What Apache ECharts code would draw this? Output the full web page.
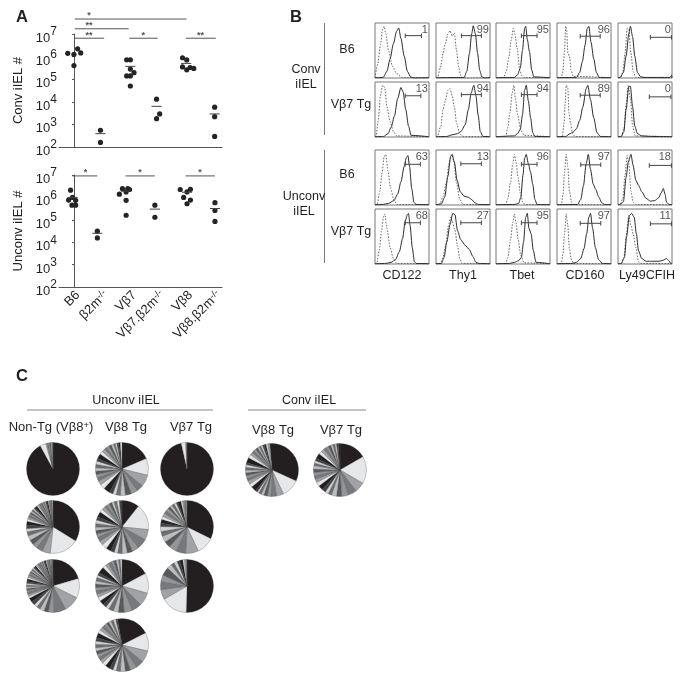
<!DOCTYPE html>
<html><head><meta charset="utf-8">
<style>html,body{margin:0;padding:0;background:#fff}#c{width:684px;height:681px}</style>
<script src="https://cdn.jsdelivr.net/npm/echarts@6/dist/echarts.min.js"></script>
</head><body><div id="c"></div>
<script>
// ---------- Panel A data ----------
const groups = ['B6','β2m-/-','Vβ7','Vβ7.β2m-/-','Vβ8','Vβ8.β2m-/-'];
// each dot: [x position in group units, value]
const convDots = [
 [-0.22,1.4e6],[0,1.25e6],[0.13,2.2e6],[0.24,1.45e6],[0,4e5],
 [0.94,550],[0.94,160],
 [1.87,7.2e5],[2,7.2e5],[2,2.8e5],[2.13,1.95e5],[1.87,1.4e5],[2,1.4e5],[2,5e4],
 [2.93,1.3e4],[3.04,2.9e3],[2.93,1.8e3],
 [3.85,8.9e5],[4,7.1e5],[3.85,3.5e5],[4,2.6e5],[4.12,3.3e5],[4.25,3e5],
 [4.99,5.8e3],[4.99,2.2e3],[4.99,295]
];
const convMeans = [[0.94,390],[2,3.7e5],[2.93,6.3e3],[3.98,5e5],[4.99,2.9e3]];
const convBars = [[0.03,1.07,6.5e6],[1.96,2.97,6.5e6],[3.97,5.03,6.5e6],[0.03,1.94,1.7e7],[0.03,3.99,4.6e7]];
const convStars = [[0.53,'**',8.5e6],[0.53,'**',2.4e7],[0.53,'*',6.6e7],[2.46,'*',8.5e6],[4.49,'**',8.5e6]];
const unconvDots = [
 [-0.12,2.1e6],[-0.19,7.6e5],[-0.05,1e6],[0.06,7.4e5],[-0.07,4.5e5],[0.06,4.5e5],
 [0.83,3.1e4],[0.83,1.55e4],
 [1.61,1.4e6],[1.72,2.45e6],[1.85,1.75e6],[1.91,2.5e6],[1.97,2.25e6],[1.85,7.4e5],[1.85,1.6e5],
 [2.87,4.5e5],[2.87,1.3e5],
 [3.77,2.25e6],[4.01,1.75e6],[4.13,2.3e6],[3.89,1e6],[4.13,7.6e5],[4.01,5.2e5],
 [5,5.8e5],[5,2.6e5],[5,8.5e4]
];
const unconvMeans = [[-0.05,1e6],[0.83,2.5e4],[1.85,1.9e6],[2.87,3e5],[4.01,1.7e6],[5,3.2e5]];
const unconvBars = [[-0.06,0.83,9.1e6],[1.83,2.87,9.1e6],[3.96,5,9.1e6]];
const unconvStars = [[0.41,'*',1.3e7],[2.34,'*',1.3e7],[4.47,'*',1.3e7]];

// ---------- Panel B data: [x,y] curve points, row by row ----------
const isoCurves = [
 [[5,25],[10,60],[14,88],[17,94],[20,80],[25,50],[32,22],[40,8],[50,1]],
 [[3,2],[8,18],[13,45],[17,62],[22,80],[26,86],[30,76],[34,82],[38,50],[42,20],[46,4],[50,0]],
 [[14,1],[19,12],[24,38],[28,68],[32,90],[35,80],[39,55],[44,15],[48,4],[52,1]],
 [[8,1],[11,12],[14,50],[16,94],[18,88],[20,45],[23,40],[26,15],[30,3]],
 [[4,1],[9,10],[13,45],[17,90],[20,88],[24,45],[28,12],[33,1]],
 [[2,2],[6,30],[10,75],[14,94],[18,90],[22,55],[28,28],[34,10],[40,2]],
 [[3,2],[9,20],[13,50],[17,65],[22,85],[26,88],[30,75],[34,55],[38,25],[44,6],[50,1]],
 [[18,1],[22,18],[26,45],[30,80],[33,94],[36,70],[40,40],[46,12],[52,3]],
 [[10,1],[13,25],[15,60],[17,94],[20,90],[22,45],[25,25],[29,6],[33,1]],
 [[6,1],[11,15],[15,60],[19,94],[23,70],[27,20],[32,2]],
 [[4,1],[9,25],[13,58],[17,88],[20,92],[24,62],[29,30],[35,9],[41,1]],
 [[7,1],[13,15],[19,40],[24,75],[29,92],[33,80],[38,40],[44,10],[50,1]],
 [[18,1],[22,12],[27,42],[31,75],[34,92],[37,78],[41,50],[45,22],[50,4],[54,1]],
 [[8,1],[11,18],[14,60],[17,92],[20,70],[23,25],[27,5],[31,1]],
 [[4,1],[9,12],[13,55],[17,90],[20,75],[24,25],[28,5],[33,1]],
 [[3,1],[8,25],[12,60],[16,88],[18,91],[22,65],[28,30],[34,10],[40,1]],
 [[8,1],[13,12],[18,35],[23,70],[27,85],[30,78],[35,62],[40,32],[44,10],[48,1]],
 [[18,1],[22,12],[27,45],[31,75],[34,91],[37,75],[41,45],[46,15],[52,2]],
 [[8,1],[11,18],[14,55],[17,91],[20,70],[23,28],[27,6],[31,1]],
 [[6,1],[11,12],[15,50],[20,88],[24,70],[28,55],[33,30],[38,4],[42,1]]
];
const stainCurves = [
 [[15,1],[22,12],[28,35],[34,62],[40,85],[44,91],[48,72],[54,40],[60,12],[66,2],[72,0]],
 [[52,1],[57,12],[62,45],[66,80],[69,95],[73,80],[77,45],[81,14],[85,2],[90,0]],
 [[34,1],[40,6],[45,18],[49,50],[53,90],[55,94],[58,70],[62,48],[66,15],[70,2]],
 [[36,1],[42,10],[47,30],[52,60],[56,90],[59,94],[63,65],[68,35],[73,10],[78,1]],
 [[4,1],[10,10],[15,40],[20,80],[23,94],[27,75],[31,40],[36,10],[42,2],[50,1],[96,1],[99,5]],
 [[16,1],[24,6],[30,18],[36,38],[42,70],[48,90],[52,82],[57,50],[62,20],[67,3]],
 [[20,1],[30,4],[40,6],[46,10],[54,22],[60,50],[65,80],[70,94],[74,75],[78,40],[82,10],[87,1]],
 [[34,2],[40,6],[45,14],[49,40],[53,85],[56,94],[60,65],[64,35],[68,8],[72,1]],
 [[16,1],[24,6],[30,9],[36,15],[42,30],[48,55],[54,88],[57,94],[62,68],[68,35],[74,8],[80,1]],
 [[6,1],[11,10],[15,50],[20,92],[23,92],[27,55],[31,20],[36,6],[44,2],[60,1]],
 [[15,1],[25,3],[35,8],[42,20],[48,42],[54,70],[58,86],[61,90],[64,70],[68,30],[72,5],[76,1]],
 [[10,2],[16,14],[22,52],[27,88],[30,92],[34,78],[39,45],[45,24],[52,16],[60,14],[66,10],[72,4],[78,1]],
 [[35,1],[42,3],[46,14],[50,55],[53,85],[56,92],[60,75],[64,60],[68,38],[72,10],[76,1]],
 [[38,1],[44,10],[49,35],[54,75],[58,92],[62,65],[67,38],[72,28],[77,15],[83,4],[88,1]],
 [[4,1],[10,6],[15,50],[19,78],[24,92],[28,72],[33,45],[38,36],[44,24],[52,12],[60,7],[68,8],[75,13],[80,22],[84,30],[87,20],[90,5],[95,1]],
 [[20,1],[30,3],[38,8],[45,22],[51,46],[56,78],[60,90],[62,92],[65,70],[69,30],[73,4],[77,1]],
 [[10,1],[15,12],[20,40],[26,72],[31,92],[35,90],[40,60],[46,44],[54,34],[62,26],[68,14],[74,3],[80,1]],
 [[25,1],[34,3],[42,6],[47,12],[51,40],[55,85],[58,92],[61,65],[65,55],[69,25],[74,3]],
 [[28,1],[36,3],[44,10],[50,28],[55,55],[59,85],[62,92],[66,65],[71,30],[77,8],[84,1]],
 [[6,1],[12,12],[16,50],[21,88],[25,92],[30,85],[34,55],[38,24],[44,10],[52,5],[65,5],[76,5],[84,7],[90,10],[94,6],[98,1]]
];
// gate: [from, to, level]
const gates = [
 [56,86,77],[47,84,77],[47,76,77],[43,80,76],[60,99,74],
 [56,85,75],[47,84,77],[47,76,77],[43,80,76],[58,98,73],
 [56,84,74],[46,84,75],[47,76,74],[44,81,73],[58,99,72],
 [56,84,75],[46,84,75],[47,76,75],[43,81,74],[60,99,73]
];
const percents = [1,99,95,96,0, 13,94,94,89,0, 63,13,96,97,18, 68,27,95,97,11];
const markers = ['CD122','Thy1','Tbet','CD160','Ly49CFIH'];

// ---------- Panel C data: clonotype shares, clockwise ----------
const pieNonTg1 = [92,3.6,0.8,0.8,0.8,0.7,0.7,0.6];
const pieV8a = [18,10,7,4,4,3.5,3,2.5,2,2,4,3,2.5,2,2,2,2,2,2,1.5,3,2,2,1.5,1.5,1.5,1.5,1,1,1,1,1];
const pieV7a = [96.5,2.7,0.4,0.4];
const pieNonTg2 = [34,18,5,4,3,3,3,2.5,2,2,2.5,1.5,1.2,1.2,1,1,1,1,0.9,0.9,1.5,0.8,0.8,0.8,0.7,0.7,0.7,0.7,0.6,0.6,1,0.5,0.5,0.5,0.5,0.5,0.5];
const pieV8b = [10,15,6,6,4,3,3,2.5,2,2,3,3,2.5,2.5,2,2,2,2,2,2,3,2,2,1.5,1.5,1.5,1.5,1.5,1.5,1.5];
const pieV7b = [33,11,8,6,5,4,4,3,3,2,2.5,2,2,2,2,1.5,1.5,1.5,1.5,1,2,1,1,1,0.8];
const pieNonTg3 = [19,11,9,7,3,2.5,2.5,2,2,2,2.5,1.2,1.2,1.2,1,1,1,1,1,1,1.5,1,1,0.9,0.9,0.8,0.8,0.8,0.8,0.7,1,0.7,0.7,0.7,0.6,0.6,0.6,0.6,0.5,0.5,0.8,0.5,0.5,0.5,0.5,0.5,0.4,0.4,0.4,0.4];
const pieV8c = [17,12,8,6,5,3.5,3,3,2,2,3,2.5,2,2,2,2,2,2,1.5,1.5,4,2,2,2,1.5,1.5,1.5,1,1];
const pieV7c = [50,16,6,5,4,5,3,2,2,1.5,2,1,1,0.5];
const pieV8d = [20,11,7,5,4,3,3,2.5,2,2,3,2.5,2,2,2,2,2,2,2,2,3,2,2,2,1.5,1.5,1.5,1.5,1.5,1];
const pieConvV8 = [30,10,4,3,2,2,1.5,1.5,1,1,3,2,2,1.5,1.5,1.5,1.5,1.5,1.5,1,3,2,1.5,1.5,1.2,1.2,1,1,1,1,1,1,1];
const pieConvV7 = [16,16,6,5,4,3,3,2,2,2,3,2.5,2,2,2,2,2,1.5,1.5,1.5,3,2,2,1.5,1.5,1.5,1.2,1.2,1,1,1];

// ---------- Layout ----------
const FONT = '"Liberation Sans", Arial, sans-serif';
const INK = '#231f20';
const greys = ['#231f20','#e6e7e8','#a0a2a5','#77797c','#939598','#58595b','#bcbec0','#6d6e71','#d1d3d4','#414042'];
const series = [], grids = [], xAxes = [], yAxes = [], graphics = [];

function text(t, x, y, size, extra) {
  graphics.push({type:'text', silent:true, rotation:(extra&&extra.rot)||0, x, y,
    style:Object.assign({text:t, x:0, y:0, textAlign:'center', textVerticalAlign:'middle',
      fill:INK, fontSize:size, fontFamily:FONT, fontWeight:(extra&&extra.bold)?'bold':'normal'},
      (extra&&extra.style)||{})});
}
function rule(x1,y1,x2,y2,color) {
  graphics.push({type:'line', silent:true, shape:{x1,y1,x2,y2}, style:{stroke:color||'#777',lineWidth:1}});
}

// Panel A
function scatterPanel(top, height, dots, means, bars, stars, yName, showLabels) {
  const g = grids.length;
  grids.push({left:59, top, width:163, height});
  const labelFmt = v => {
    const n = groups[Math.round(v)];
    return n.endsWith('-/-') ? `{n|${n.slice(0,-3)}}{s|-/-}` : `{n|${n}}`;
  };
  xAxes.push({gridIndex:g, type:'value', min:-0.53, max:5.25, splitLine:{show:false},
    axisLine:{onZero:false, lineStyle:{color:'#555',width:1}}, axisTick:{show:false},
    axisLabel:{show:showLabels, customValues:[0.14,1.14,2.14,3.14,4.14,5.14], rotate:45, margin:6, formatter:labelFmt,
      hideOverlap:false, showMinLabel:true, showMaxLabel:true,
      rich:{n:{fontSize:13,fontFamily:FONT,color:INK}, s:{fontSize:9.5,fontFamily:FONT,color:INK,verticalAlign:'bottom',padding:[0,0,5,0]}}}});
  yAxes.push({gridIndex:g, type:'log', logBase:10, min:100, max:1e7, splitLine:{show:false}, minorTick:{show:false},
    axisLine:{show:true, lineStyle:{color:'#555',width:1}}, axisTick:{show:true,length:2,lineStyle:{color:'#555'}},
    name:yName, nameLocation:'middle', nameGap:34, nameRotate:90,
    nameTextStyle:{fontSize:13,fontFamily:FONT,color:INK},
    axisLabel:{margin:2, formatter:v=>`{n|10}{s|${Math.round(Math.log10(v))}}`,
      rich:{n:{fontSize:13,fontFamily:FONT,color:INK,verticalAlign:'bottom',padding:[0,0,-3,0]}, s:{fontSize:12,fontFamily:FONT,color:INK,verticalAlign:'bottom',padding:[0,0,4,0]}}}});
  series.push({type:'scatter', xAxisIndex:g, yAxisIndex:g, data:dots, symbolSize:5.2, clip:false,
    itemStyle:{color:'#262324',opacity:1}, silent:true});
  means.forEach(m => series.push({type:'line', xAxisIndex:g, yAxisIndex:g, silent:true, symbol:'none', clip:false,
    data:[[m[0]-0.18,m[1]],[m[0]+0.18,m[1]]], lineStyle:{color:'#444',width:1}}));
  bars.forEach(b => series.push({type:'line', xAxisIndex:g, yAxisIndex:g, silent:true, symbol:'none', clip:false,
    data:[[b[0],b[2]],[b[1],b[2]]], lineStyle:{color:'#555',width:1}}));
  series.push({type:'scatter', xAxisIndex:g, yAxisIndex:g, silent:true, clip:false, symbolSize:0,
    data:stars.map(s=>({value:[s[0],s[2]], label:{formatter:s[1]}})),
    label:{show:true, position:'inside', fontSize:9, fontWeight:'bold', fontFamily:FONT, color:INK}});
}
scatterPanel(34,113,convDots,convMeans,convBars,convStars,'Conv iIEL #',false);
scatterPanel(175,112,unconvDots,unconvMeans,unconvBars,unconvStars,'Unconv iIEL #',true);

// Panel B
const colX = [375,436,496,557,618];
const rowY = [23,82,150,209];
isoCurves.forEach((iso,i) => {
  const r = Math.floor(i/5), c = i%5, g = grids.length;
  grids.push({left:colX[c], top:rowY[r], width:54, height:55, show:true, borderColor:'#777', borderWidth:1, backgroundColor:'#fff'});
  xAxes.push({gridIndex:g, type:'value', min:0, max:100, show:false});
  yAxes.push({gridIndex:g, type:'value', min:0, max:100, show:false});
  const base = {type:'line', xAxisIndex:g, yAxisIndex:g, silent:true, showSymbol:false, symbol:'none', smooth:0.25, smoothMonotone:'x'};
  series.push(Object.assign({},base,{data:[[0,0.5],...iso,[100,0.5]], lineStyle:{color:'#666',width:1,type:[1.5,1.5]}}));
  series.push(Object.assign({},base,{data:[[0,0.5],...stainCurves[i],[100,0.5]], lineStyle:{color:'#2c2a2b',width:1}}));
  const gt = gates[i];
  series.push({type:'line', xAxisIndex:g, yAxisIndex:g, silent:true, symbol:'rect', symbolSize:[1,4.5], showSymbol:true,
    data:[[gt[0],gt[2]],[gt[1],gt[2]]], itemStyle:{color:'#444'}, lineStyle:{color:'#444',width:1}});
  series.push({type:'scatter', xAxisIndex:g, yAxisIndex:g, silent:true, symbolSize:0, data:[[98,87]],
    label:{show:true, position:'left', distance:0, formatter:String(percents[i]), fontSize:11, fontFamily:FONT, color:INK}});
});
rule(324.5,23,324.5,135); rule(324.5,150,324.5,263);
text('Conv',306,70,12.5); text('iIEL',306,85,12.5);
text('Unconv',304,197,12.5); text('iIEL',304,212,12.5);
text('B6',347,50,12.5); text('Vβ7 Tg',351,105,12.5);
text('B6',347,175,12.5); text('Vβ7 Tg',351,232,12.5);
markers.forEach((m,i)=>text(m,[402,463,522,585,647][i],276,12.5));

// Panel C
const pies = [
 [pieNonTg1,53,469,90],[pieV8a,122,469,90],[pieV7a,187,469,90],
 [pieNonTg2,53,527,90],[pieV8b,122,527,90],[pieV7b,187,527,90],
 [pieNonTg3,53,586,90],[pieV8c,122,586,90],[pieV7c,187,586,90],
 [pieV8d,122,645,100],
 [pieConvV8,272,470,95],[pieConvV7,340,470,90]
];
pies.forEach(p => series.push({type:'pie', silent:true, center:[p[1],p[2]], radius:[0,26.5], startAngle:p[3], clockwise:true,
  label:{show:false}, labelLine:{show:false}, minShowLabelAngle:360, avoidLabelOverlap:false,
  itemStyle:{borderColor:'#4a4a4a',borderWidth:0.3},
  data:p[0].map((v,i)=>({value:v,itemStyle:{color:greys[i%greys.length]}}))}));
text('Unconv iIEL',126,401,12.5); rule(27,410,213,410,'#888');
text('Conv iIEL',309,401,12.5); rule(248,410,366,410,'#888');
text('{a|Non-Tg (Vβ8}{s|+}{a|)}',51,427,13,{style:{rich:{a:{fontSize:13,fontFamily:FONT,fill:INK},s:{fontSize:9.5,fontFamily:FONT,fill:INK,verticalAlign:'bottom',padding:[0,0,4,0]}}}});
text('Vβ8 Tg',126,427,13); text('Vβ7 Tg',191,427,13);
text('Vβ8 Tg',273,430,13); text('Vβ7 Tg',341,430,13);
text('A',22,17,16.5,{bold:true}); text('B',296,17,16.5,{bold:true}); text('C',22,376,16.5,{bold:true});

const chart = echarts.init(document.getElementById('c'), null, {renderer:'canvas'});
chart.setOption({animation:false, backgroundColor:'#fff', tooltip:{show:false}, legend:{show:false},
  grid:grids, xAxis:xAxes, yAxis:yAxes, series, graphic:{elements:graphics}});
</script></body></html>
